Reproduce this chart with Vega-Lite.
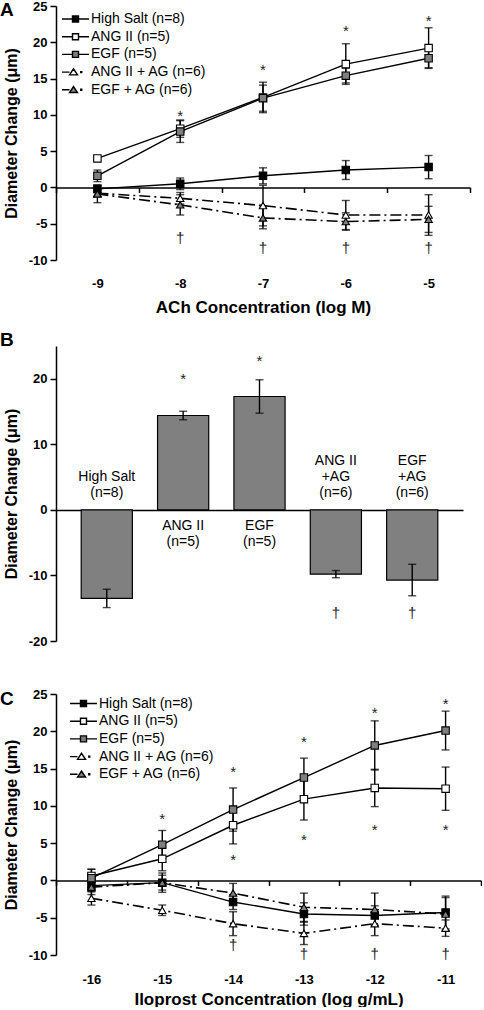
{
  "$schema": "https://vega.github.io/schema/vega-lite/v6.json",
  "padding": {"left": 0, "top": 0, "right": 0, "bottom": 0},
  "background": "white",
  "spacing": 40,
  "datasets": {
    "A": [
      {"x": -9, "s": "High Salt (n=8)", "y": -0.2, "e": 0.5},
      {"x": -8, "s": "High Salt (n=8)", "y": 0.5, "e": 0.8},
      {"x": -7, "s": "High Salt (n=8)", "y": 1.6, "e": 1.1},
      {"x": -6, "s": "High Salt (n=8)", "y": 2.4, "e": 1.3},
      {"x": -5, "s": "High Salt (n=8)", "y": 2.8, "e": 1.6},
      {"x": -9, "s": "ANG II (n=5)", "y": 4.0, "e": 0.3},
      {"x": -8, "s": "ANG II (n=5)", "y": 8.1, "e": 1.2},
      {"x": -7, "s": "ANG II (n=5)", "y": 12.4, "e": 2.1},
      {"x": -6, "s": "ANG II (n=5)", "y": 17.0, "e": 2.8},
      {"x": -5, "s": "ANG II (n=5)", "y": 19.2, "e": 2.8},
      {"x": -9, "s": "EGF (n=5)", "y": 1.6, "e": 0.8},
      {"x": -8, "s": "EGF (n=5)", "y": 7.7, "e": 1.5},
      {"x": -7, "s": "EGF (n=5)", "y": 12.3, "e": 1.8},
      {"x": -6, "s": "EGF (n=5)", "y": 15.4, "e": 1.0},
      {"x": -5, "s": "EGF (n=5)", "y": 17.8, "e": 1.3},
      {"x": -9, "s": "ANG II + AG (n=6)", "y": -0.8, "e": 0.5},
      {"x": -8, "s": "ANG II + AG (n=6)", "y": -1.5, "e": 0.8},
      {"x": -7, "s": "ANG II + AG (n=6)", "y": -2.5, "e": 2.8},
      {"x": -6, "s": "ANG II + AG (n=6)", "y": -3.8, "e": 2.0},
      {"x": -5, "s": "ANG II + AG (n=6)", "y": -3.8, "e": 2.8},
      {"x": -9, "s": "EGF + AG (n=6)", "y": -0.9, "e": 1.2},
      {"x": -8, "s": "EGF + AG (n=6)", "y": -2.4, "e": 1.4},
      {"x": -7, "s": "EGF + AG (n=6)", "y": -4.2, "e": 1.5},
      {"x": -6, "s": "EGF + AG (n=6)", "y": -4.7, "e": 1.2},
      {"x": -5, "s": "EGF + AG (n=6)", "y": -4.4, "e": 1.8}
    ],
    "Anote": [
      {"x": -8, "y": 9.9, "t": "*"},
      {"x": -7, "y": 16.2, "t": "*"},
      {"x": -6, "y": 21.5, "t": "*"},
      {"x": -5, "y": 22.9, "t": "*"},
      {"x": -8, "y": -7.0, "t": "†"},
      {"x": -7, "y": -8.3, "t": "†"},
      {"x": -6, "y": -8.3, "t": "†"},
      {"x": -5, "y": -8.3, "t": "†"}
    ],
    "B": [
      {"g": "High Salt", "v": -13.5, "e": 1.4, "lab": "High Salt\n(n=8)"},
      {"g": "ANG II", "v": 14.4, "e": 0.65, "lab": "ANG II\n(n=5)"},
      {"g": "EGF", "v": 17.3, "e": 2.55, "lab": "EGF\n(n=5)"},
      {"g": "ANG II +AG", "v": -9.8, "e": 0.55, "lab": "ANG II\n+AG\n(n=6)"},
      {"g": "EGF +AG", "v": -10.7, "e": 2.4, "lab": "EGF\n+AG\n(n=6)"}
    ],
    "Bnote": [
      {"g": "ANG II", "y": 19.9, "t": "*"},
      {"g": "EGF", "y": 22.7, "t": "*"},
      {"g": "ANG II +AG", "y": -15.7, "t": "†"},
      {"g": "EGF +AG", "y": -15.7, "t": "†"}
    ],
    "C": [
      {"x": -16, "s": "High Salt (n=8)", "y": -0.7, "e": 0.8},
      {"x": -15, "s": "High Salt (n=8)", "y": -0.3, "e": 1.0},
      {"x": -14, "s": "High Salt (n=8)", "y": -2.9, "e": 1.0},
      {"x": -13, "s": "High Salt (n=8)", "y": -4.5, "e": 1.5},
      {"x": -12, "s": "High Salt (n=8)", "y": -4.7, "e": 1.3},
      {"x": -11, "s": "High Salt (n=8)", "y": -4.3, "e": 2.2},
      {"x": -16, "s": "ANG II (n=5)", "y": 0.6, "e": 0.9},
      {"x": -15, "s": "ANG II (n=5)", "y": 2.9, "e": 1.6},
      {"x": -14, "s": "ANG II (n=5)", "y": 7.4, "e": 2.5},
      {"x": -13, "s": "ANG II (n=5)", "y": 10.9, "e": 2.8},
      {"x": -12, "s": "ANG II (n=5)", "y": 12.4, "e": 2.5},
      {"x": -11, "s": "ANG II (n=5)", "y": 12.3, "e": 2.9},
      {"x": -16, "s": "EGF (n=5)", "y": 0.3, "e": 1.2},
      {"x": -15, "s": "EGF (n=5)", "y": 4.8, "e": 1.9},
      {"x": -14, "s": "EGF (n=5)", "y": 9.5, "e": 2.9},
      {"x": -13, "s": "EGF (n=5)", "y": 13.8, "e": 2.6},
      {"x": -12, "s": "EGF (n=5)", "y": 18.1, "e": 3.3},
      {"x": -11, "s": "EGF (n=5)", "y": 20.1, "e": 2.6},
      {"x": -16, "s": "ANG II + AG (n=6)", "y": -2.4, "e": 0.9},
      {"x": -15, "s": "ANG II + AG (n=6)", "y": -4.0, "e": 0.7},
      {"x": -14, "s": "ANG II + AG (n=6)", "y": -5.8, "e": 1.6},
      {"x": -13, "s": "ANG II + AG (n=6)", "y": -7.1, "e": 1.5},
      {"x": -12, "s": "ANG II + AG (n=6)", "y": -5.8, "e": 1.6},
      {"x": -11, "s": "ANG II + AG (n=6)", "y": -6.4, "e": 1.1},
      {"x": -16, "s": "EGF + AG (n=6)", "y": -0.9, "e": 1.0},
      {"x": -15, "s": "EGF + AG (n=6)", "y": -0.3, "e": 1.3},
      {"x": -14, "s": "EGF + AG (n=6)", "y": -1.7, "e": 1.3},
      {"x": -13, "s": "EGF + AG (n=6)", "y": -3.6, "e": 1.9},
      {"x": -12, "s": "EGF + AG (n=6)", "y": -3.9, "e": 2.2},
      {"x": -11, "s": "EGF + AG (n=6)", "y": -4.5, "e": 2.2}
    ],
    "Cnote": [
      {"x": -15, "y": 8.2, "t": "*"},
      {"x": -14, "y": 14.6, "t": "*"},
      {"x": -13, "y": 18.5, "t": "*"},
      {"x": -12, "y": 22.4, "t": "*"},
      {"x": -11, "y": 23.6, "t": "*"},
      {"x": -14, "y": 2.8, "t": "*"},
      {"x": -13, "y": 5.4, "t": "*"},
      {"x": -12, "y": 6.8, "t": "*"},
      {"x": -11, "y": 6.8, "t": "*"},
      {"x": -14, "y": -8.7, "t": "†"},
      {"x": -13, "y": -9.9, "t": "†"},
      {"x": -12, "y": -9.9, "t": "†"},
      {"x": -11, "y": -9.9, "t": "†"}
    ]
  },
  "vconcat": [
    {
      "spacing": 16,
      "vconcat": [
        {
          "width": 414,
          "height": 254,
          "title": {"text": "A", "anchor": "start", "frame": "group", "fontSize": 19, "fontWeight": "bold", "dx": -56, "offset": -20},
          "layer": [
            {
              "data": {"name": "A"},
              "transform": [{"filter": "indexof(datum.s, 'AG') < 0"}],
              "mark": {"type": "line", "stroke": "black", "strokeWidth": 1.4},
              "encoding": {
                "x": {"field": "x", "type": "quantitative", "scale": {"domain": [-9.5, -4.5], "nice": false, "zero": false},
                      "axis": {"orient": "bottom", "values": [-9.5, -8.5, -7.5, -6.5, -5.5, -4.5], "labels": false, "title": null, "offset": -72.57, "tickSize": 5}},
                "y": {"field": "y", "type": "quantitative", "title": "Diameter Change (μm)", "scale": {"domain": [-10, 25], "nice": false, "zero": false},
                      "axis": {"values": [-10, -5, 0, 5, 10, 15, 20, 25], "labelOverlap": false, "tickSize": 6, "labelPadding": 3, "labelExpr": "'' + datum.value", "titleFontSize": 16, "titlePadding": 9}},
                "detail": {"field": "s"}
              }
            },
            {
              "data": {"name": "A"},
              "transform": [{"filter": "indexof(datum.s, 'AG') >= 0"}],
              "mark": {"type": "line", "stroke": "black", "strokeWidth": 1.6, "strokeDash": [11, 4, 2, 4]},
              "encoding": {
                "x": {"field": "x", "type": "quantitative", "axis": null},
                "y": {"field": "y", "type": "quantitative", "title": "Diameter Change (μm)",
                      "axis": {"values": [-10, -5, 0, 5, 10, 15, 20, 25], "labelOverlap": false, "tickSize": 6, "labelPadding": 3, "labelExpr": "'' + datum.value", "titleFontSize": 16, "titlePadding": 9}},
                "detail": {"field": "s"}
              }
            },
            {
              "data": {"name": "A"},
              "mark": {"type": "errorbar", "ticks": {"size": 8}, "color": "black", "thickness": 1.4},
              "encoding": {
                "x": {"field": "x", "type": "quantitative", "axis": null},
                "y": {"field": "y", "type": "quantitative", "title": "Diameter Change (μm)",
                      "axis": {"values": [-10, -5, 0, 5, 10, 15, 20, 25], "labelOverlap": false, "tickSize": 6, "labelPadding": 3, "labelExpr": "'' + datum.value", "titleFontSize": 16, "titlePadding": 9}},
                "yError": {"field": "e"}
              }
            },
            {
              "data": {"name": "A"},
              "mark": {"type": "point", "filled": true, "stroke": "black", "strokeWidth": 1.1, "size": 55, "opacity": 1},
              "encoding": {
                "x": {"field": "x", "type": "quantitative",
                      "axis": {"orient": "bottom", "values": [-9, -8, -7, -6, -5], "domain": false, "ticks": false, "labelExpr": "'' + datum.value", "labelPadding": 17, "title": "ACh Concentration (log M)", "titleFontSize": 17, "titlePadding": 9}},
                "y": {"field": "y", "type": "quantitative", "title": "Diameter Change (μm)",
                      "axis": {"values": [-10, -5, 0, 5, 10, 15, 20, 25], "labelOverlap": false, "tickSize": 6, "labelPadding": 3, "labelExpr": "'' + datum.value", "titleFontSize": 16, "titlePadding": 9}},
                "fill": {"field": "s", "type": "nominal", "scale": {"domain": ["High Salt (n=8)", "ANG II (n=5)", "EGF (n=5)", "ANG II + AG (n=6)", "EGF + AG (n=6)"], "range": ["black", "white", "#7f7f7f", "white", "#7f7f7f"]},
                         "legend": {"title": null, "orient": "none", "legendX": 4, "legendY": 6, "padding": 0, "labelFontSize": 14, "labelOffset": 17, "symbolSize": 100, "rowPadding": 3.7, "labelColor": "black",
                                    "symbolStrokeColor": "black", "symbolStrokeWidth": 1.4, "symbolOpacity": 1,
                                    "symbolType": {"expr": "indexof(datum.value, 'AG') >= 0 ? 'M-1,0L0.5,0M0.5,0.55L1.3,-0.65L2.1,0.55ZM2.75,-0.1L2.95,-0.1L2.95,0.1L2.75,0.1Z' : 'M-1,0L1.1,0M2.3,0L4.4,0M1.1,-0.6L2.3,-0.6L2.3,0.6L1.1,0.6Z'"}}},
                "shape": {"field": "s", "type": "nominal", "scale": {"domain": ["ANG II + AG (n=6)", "EGF + AG (n=6)", "High Salt (n=8)", "ANG II (n=5)", "EGF (n=5)"], "range": ["triangle-up", "triangle-up", "square", "square", "square"]}, "legend": null}
              }
            },
            {
              "data": {"name": "Anote"},
              "mark": {"type": "text", "fontSize": 15, "color": "#222222", "baseline": "middle"},
              "encoding": {
                "x": {"field": "x", "type": "quantitative", "axis": null},
                "y": {"field": "y", "type": "quantitative", "title": "Diameter Change (μm)",
                      "axis": {"values": [-10, -5, 0, 5, 10, 15, 20, 25], "labelOverlap": false, "tickSize": 6, "labelPadding": 3, "labelExpr": "'' + datum.value", "titleFontSize": 16, "titlePadding": 9}},
                "text": {"field": "t"}
              }
            }
          ],
          "resolve": {"axis": {"x": "independent"}}
        },
        {
          "width": 407,
          "height": 295,
          "title": {"text": "B", "anchor": "start", "frame": "group", "fontSize": 19, "fontWeight": "bold", "dx": -56, "offset": -4},
          "layer": [
            {
              "data": {"name": "B"},
              "mark": {"type": "bar", "fill": "#808080", "stroke": "black", "strokeWidth": 1.2},
              "encoding": {
                "x": {"field": "g", "type": "nominal", "sort": null, "scale": {"paddingInner": 0.33, "paddingOuter": 0.33},
                      "axis": {"labels": false, "ticks": false, "title": null, "offset": -131.1}},
                "y": {"field": "v", "type": "quantitative", "title": "Diameter Change (μm)", "scale": {"domain": [-20, 25], "nice": false},
                      "axis": {"values": [-20, -15, -10, -5, 0, 5, 10, 15, 20, 25], "labelOverlap": false, "tickSize": 6, "labelPadding": 3, "labelExpr": "'' + datum.value", "titleFontSize": 16, "titlePadding": 9}}
              }
            },
            {
              "data": {"name": "B"},
              "mark": {"type": "errorbar", "ticks": {"size": 8}, "color": "black", "thickness": 1.4},
              "encoding": {
                "x": {"field": "g", "type": "nominal", "sort": null},
                "y": {"field": "v", "type": "quantitative", "title": "Diameter Change (μm)",
                      "axis": {"values": [-20, -15, -10, -5, 0, 5, 10, 15, 20, 25], "labelOverlap": false, "tickSize": 6, "labelPadding": 3, "labelExpr": "'' + datum.value", "titleFontSize": 16, "titlePadding": 9}},
                "yError": {"field": "e"}
              }
            },
            {
              "data": {"name": "B"},
              "transform": [{"filter": "datum.v < 0 && indexof(datum.lab, '+AG') < 0"}],
              "mark": {"type": "text", "fontSize": 14, "color": "black", "baseline": "bottom", "lineBreak": "\n", "lineHeight": 16.3, "dy": -26},
              "encoding": {
                "x": {"field": "g", "type": "nominal", "sort": null},
                "y": {"datum": 0},
                "text": {"field": "lab"}
              }
            },
            {
              "data": {"name": "B"},
              "transform": [{"filter": "datum.v < 0 && indexof(datum.lab, '+AG') >= 0"}],
              "mark": {"type": "text", "fontSize": 14, "color": "black", "baseline": "bottom", "lineBreak": "\n", "lineHeight": 16.3, "dy": -42},
              "encoding": {
                "x": {"field": "g", "type": "nominal", "sort": null},
                "y": {"datum": 0},
                "text": {"field": "lab"}
              }
            },
            {
              "data": {"name": "B"},
              "transform": [{"filter": "datum.v > 0"}],
              "mark": {"type": "text", "fontSize": 14, "color": "black", "baseline": "top", "lineBreak": "\n", "lineHeight": 16.3, "dy": 9},
              "encoding": {
                "x": {"field": "g", "type": "nominal", "sort": null},
                "y": {"datum": 0},
                "text": {"field": "lab"}
              }
            },
            {
              "data": {"name": "Bnote"},
              "mark": {"type": "text", "fontSize": 15, "color": "#222222", "baseline": "middle"},
              "encoding": {
                "x": {"field": "g", "type": "nominal", "sort": null},
                "y": {"field": "y", "type": "quantitative", "title": "Diameter Change (μm)",
                      "axis": {"values": [-20, -15, -10, -5, 0, 5, 10, 15, 20, 25], "labelOverlap": false, "tickSize": 6, "labelPadding": 3, "labelExpr": "'' + datum.value", "titleFontSize": 16, "titlePadding": 9}},
                "text": {"field": "t"}
              }
            }
          ]
        }
      ]
    },
    {
      "width": 425,
      "height": 261,
      "title": {"text": "C", "anchor": "start", "frame": "group", "fontSize": 19, "fontWeight": "bold", "dx": -56, "offset": -21},
      "layer": [
        {
          "data": {"name": "C"},
          "transform": [{"filter": "indexof(datum.s, 'AG') < 0"}],
          "mark": {"type": "line", "stroke": "black", "strokeWidth": 1.4},
          "encoding": {
            "x": {"field": "x", "type": "quantitative", "scale": {"domain": [-16.5, -10.5], "nice": false, "zero": false},
                  "axis": {"orient": "bottom", "values": [-16.5, -15.5, -14.5, -13.5, -12.5, -11.5, -10.5], "labels": false, "title": null, "offset": -74.57, "tickSize": 5}},
            "y": {"field": "y", "type": "quantitative", "title": "Diameter Change (μm)", "scale": {"domain": [-10, 25], "nice": false, "zero": false},
                  "axis": {"values": [-10, -5, 0, 5, 10, 15, 20, 25], "labelOverlap": false, "tickSize": 6, "labelPadding": 3, "labelExpr": "'' + datum.value", "titleFontSize": 16, "titlePadding": 9}},
            "detail": {"field": "s"}
          }
        },
        {
          "data": {"name": "C"},
          "transform": [{"filter": "indexof(datum.s, 'AG') >= 0"}],
          "mark": {"type": "line", "stroke": "black", "strokeWidth": 1.6, "strokeDash": [11, 4, 2, 4]},
          "encoding": {
            "x": {"field": "x", "type": "quantitative", "axis": null},
            "y": {"field": "y", "type": "quantitative", "title": "Diameter Change (μm)",
                  "axis": {"values": [-10, -5, 0, 5, 10, 15, 20, 25], "labelOverlap": false, "tickSize": 6, "labelPadding": 3, "labelExpr": "'' + datum.value", "titleFontSize": 16, "titlePadding": 9}},
            "detail": {"field": "s"}
          }
        },
        {
          "data": {"name": "C"},
          "mark": {"type": "errorbar", "ticks": {"size": 8}, "color": "black", "thickness": 1.4},
          "encoding": {
            "x": {"field": "x", "type": "quantitative", "axis": null},
            "y": {"field": "y", "type": "quantitative", "title": "Diameter Change (μm)",
                  "axis": {"values": [-10, -5, 0, 5, 10, 15, 20, 25], "labelOverlap": false, "tickSize": 6, "labelPadding": 3, "labelExpr": "'' + datum.value", "titleFontSize": 16, "titlePadding": 9}},
            "yError": {"field": "e"}
          }
        },
        {
          "data": {"name": "C"},
          "mark": {"type": "point", "filled": true, "stroke": "black", "strokeWidth": 1.1, "size": 55, "opacity": 1},
          "encoding": {
            "x": {"field": "x", "type": "quantitative",
                  "axis": {"orient": "bottom", "values": [-16, -15, -14, -13, -12, -11], "domain": false, "ticks": false, "labelExpr": "'' + datum.value", "labelPadding": 18, "title": "Iloprost Concentration (log g/mL)", "titleFontSize": 17, "titlePadding": 5}},
            "y": {"field": "y", "type": "quantitative", "title": "Diameter Change (μm)",
                  "axis": {"values": [-10, -5, 0, 5, 10, 15, 20, 25], "labelOverlap": false, "tickSize": 6, "labelPadding": 3, "labelExpr": "'' + datum.value", "titleFontSize": 16, "titlePadding": 9}},
            "fill": {"field": "s", "type": "nominal", "scale": {"domain": ["High Salt (n=8)", "ANG II (n=5)", "EGF (n=5)", "ANG II + AG (n=6)", "EGF + AG (n=6)"], "range": ["black", "white", "#7f7f7f", "white", "#7f7f7f"]},
                     "legend": {"title": null, "orient": "none", "legendX": 12, "legendY": 2.5, "padding": 0, "labelFontSize": 14, "labelOffset": 17, "symbolSize": 100, "rowPadding": 3.7, "labelColor": "black",
                                "symbolStrokeColor": "black", "symbolStrokeWidth": 1.4, "symbolOpacity": 1,
                                "symbolType": {"expr": "indexof(datum.value, 'AG') >= 0 ? 'M-1,0L0.5,0M0.5,0.55L1.3,-0.65L2.1,0.55ZM2.75,-0.1L2.95,-0.1L2.95,0.1L2.75,0.1Z' : 'M-1,0L1.1,0M2.3,0L4.4,0M1.1,-0.6L2.3,-0.6L2.3,0.6L1.1,0.6Z'"}}},
            "shape": {"field": "s", "type": "nominal", "scale": {"domain": ["ANG II + AG (n=6)", "EGF + AG (n=6)", "High Salt (n=8)", "ANG II (n=5)", "EGF (n=5)"], "range": ["triangle-up", "triangle-up", "square", "square", "square"]}, "legend": null}
          }
        },
        {
          "data": {"name": "Cnote"},
          "mark": {"type": "text", "fontSize": 15, "color": "#222222", "baseline": "middle"},
          "encoding": {
            "x": {"field": "x", "type": "quantitative", "axis": null},
            "y": {"field": "y", "type": "quantitative", "title": "Diameter Change (μm)",
                  "axis": {"values": [-10, -5, 0, 5, 10, 15, 20, 25], "labelOverlap": false, "tickSize": 6, "labelPadding": 3, "labelExpr": "'' + datum.value", "titleFontSize": 16, "titlePadding": 9}},
            "text": {"field": "t"}
          }
        }
      ],
      "resolve": {"axis": {"x": "independent"}}
    }
  ],
  "resolve": {"scale": {"fill": "independent", "shape": "independent", "x": "independent", "y": "independent"}, "legend": {"fill": "independent", "shape": "independent"}},
  "config": {
    "font": "Liberation Sans",
    "view": {"stroke": null},
    "axis": {"labelFontWeight": "bold", "labelFontSize": 13, "labelColor": "black", "titleFontWeight": "bold", "titleColor": "black", "domainColor": "black", "tickColor": "black", "domainWidth": 1.5, "tickWidth": 1.5, "grid": false, "labelOverlap": false},
    "title": {"color": "black"}
  }
}
